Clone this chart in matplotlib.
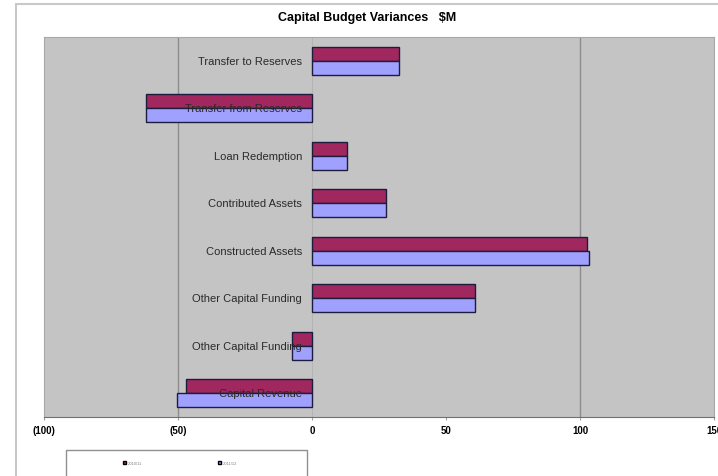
import matplotlib
matplotlib.use("Agg")
import matplotlib.pyplot as plt
from matplotlib.patches import Patch, Rectangle

plt.rcParams["font.family"] = ["Liberation Sans", "DejaVu Sans"]

# Capital budget variances, $M (top to bottom)
categories = [
    "Transfer to Reserves",
    "Transfer from Reserves",
    "Loan Redemption",
    "Contributed Assets",
    "Constructed Assets",
    "Other Capital Funding",
    "Other Capital Funding",
    "Capital Revenue",
]
series_a = [32.5, -62.0, 13.2, 27.6, 102.5, 61.0, -7.5, -47.0]
series_b = [32.5, -62.0, 13.2, 27.6, 103.3, 61.0, -7.3, -50.3]
series_names = ["2010/11", "2011/12"]
xticks = [-100, -50, 0, 50, 100, 150]
xtick_labels = ["(100)", "(50)", "0", "50", "100", "150"]
grid_at = [-50, 100]

COLOR_A = "#A0285F"
COLOR_B = "#A0A0FF"
EDGE = "#1C1C3C"

fig = plt.figure(figsize=(7.18, 4.77), dpi=100)
ax = fig.add_axes([44 / 718, 1 - 418 / 477, 670 / 718, 380 / 477])

# outer chart border, runs off the right and bottom edges
fig.patches.append(Rectangle((16 / 718, -0.1), 1.0, 1 - 5 / 477 + 0.1,
                             transform=fig.transFigure, fill=False,
                             edgecolor="#C8C8C8", linewidth=1.5))

ax.set_facecolor("#C4C4C4")
bar_h = 0.29
pos = list(range(len(categories)))
ax.barh([p - bar_h / 2 for p in pos], series_a, height=bar_h,
        color=COLOR_A, edgecolor=EDGE, linewidth=1.0, zorder=3)
ax.barh([p + bar_h / 2 for p in pos], series_b, height=bar_h,
        color=COLOR_B, edgecolor=EDGE, linewidth=1.0, zorder=3)

for g in grid_at:
    ax.axvline(g, color="#8C8C8C", linewidth=1.0, zorder=1)
ax.axvline(0, color="#B4B4B4", linewidth=0.8, zorder=1)

for p, name in zip(pos, categories):
    ax.text(-3.7, p, name, ha="right", va="center", fontsize=8,
            color="#2A2A2A", zorder=5)

ax.set_xlim(-100, 150)
ax.set_ylim(len(categories) - 0.5, -0.5)
ax.set_xticks(xticks)
ax.set_xticklabels(xtick_labels, fontsize=7, fontweight="bold")
ax.set_yticks([])
ax.tick_params(axis="x", length=2, color="#A0A0A0", pad=4)
for side in ["top", "left", "right"]:
    ax.spines[side].set_color("#A8A8A8")
ax.spines["bottom"].set_color("#707070")

fig.text(367 / 718, 1 - 18 / 477, "Capital Budget Variances   $M",
         ha="center", va="center", fontsize=9, fontweight="bold")

# legend box also runs past the bottom edge
fig.patches.append(Rectangle((66 / 718, -0.05), 241 / 718, 26 / 477 + 0.05,
                             transform=fig.transFigure, fill=False,
                             edgecolor="#909090", linewidth=1.0))
handles = [Patch(facecolor=COLOR_A, edgecolor="black"),
           Patch(facecolor=COLOR_B, edgecolor="black")]
fig.legend(handles, series_names, loc="center", ncol=2, frameon=False,
           bbox_to_anchor=(180 / 718, 1 - 464 / 477), fontsize=3,
           handlelength=0.8, handleheight=0.8, handletextpad=0.4,
           columnspacing=18, labelcolor="#808080")

fig.savefig("out.png", dpi=100)
